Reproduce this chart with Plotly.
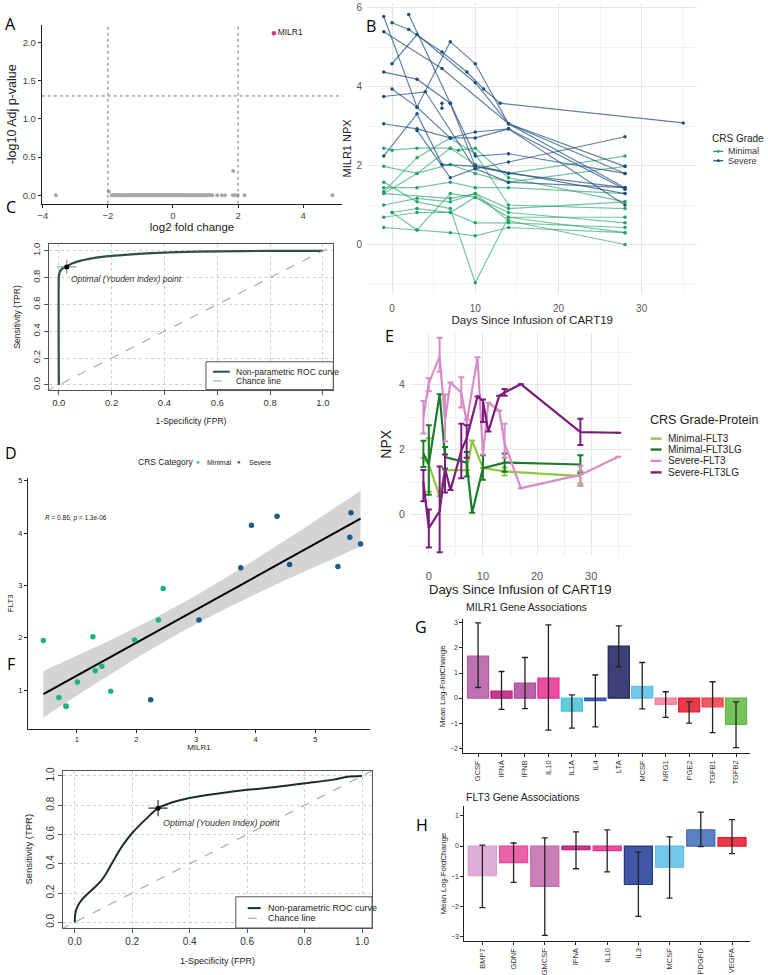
import plotly.graph_objects as go
import numpy as np

# ---------------- Panel A: volcano ----------------
a_fc = [-3.60, -1.97, 1.85,
        -1.88, -1.85, -1.81, -1.79, -1.75, -1.72, -1.70, -1.66, -1.62, -1.60, -1.57, -1.52, -1.50, -1.47,
        -1.43, -1.39, -1.36, -1.34, -1.30, -1.27, -1.22, -1.20, -1.17, -1.13, -1.09, -1.06, -1.03, -0.99,
        -0.96, -0.93, -0.89, -0.86, -0.82, -0.80, -0.76, -0.73, -0.69, -0.66, -0.63, -0.59, -0.56, -0.52,
        -0.50, -0.46, -0.43, -0.39, -0.36, -0.33, -0.29, -0.26, -0.23, -0.19, -0.16, -0.12, -0.10, -0.06,
        -0.03, 0.01, 0.04, 0.07, 0.11, 0.14, 0.18, 0.21, 0.24, 0.28, 0.31, 0.35, 0.38, 0.42, 0.45, 0.48,
        0.52, 0.55, 0.59, 0.62, 0.66, 0.69, 0.73, 0.76, 0.80, 0.83, 0.87, 0.90, 0.94, 0.97, 1.01, 1.04,
        1.08, 1.12, 1.16, 1.21, 1.36, 1.50, 1.60, 1.84, 1.91, 1.99, 2.20, 4.90]
a_p = [0.0, 0.05, 0.32] + [0.0] * 100
a_hit_fc = [3.10]
a_hit_p = [2.12]
a_hit_label = ["MILR1"]
a_fc_cut = [-2, 2]
a_p_cut = 1.3
a_xticks = [-4, -2, 0, 2, 4]
a_yticks = [0.0, 0.5, 1.0, 1.5, 2.0]

# ---------------- Panel B: MILR1 trajectories ----------------
b_groups = ["Minimal", "Severe"]
b_min_days = [[-1, 3, 7, 10, 14, 28], [0, 3, 7, 10, 14, 28], [-1, 3, 7, 10, 14, 28],
              [-1, 3, 7, 10, 14, 28], [-1, 3, 7, 10, 14, 28], [-1, 3, 7, 10, 14, 28],
              [-1, 3, 7, 10, 14, 28], [-1, 3, 7, 10, 14, 28], [-1, 0, 3, 7, 8, 10, 14, 28],
              [-1, 3, 7, 10, 14, 28], [0, 3, 7, 10, 14, 28], [-1, 7, 10, 14, 28]]
b_min_vals = [[0.43, 0.37, 0.30, 0.22, 0.43, 0.30], [0.81, 0.37, 1.29, 1.20, 0.81, 0.55],
              [0.69, 0.81, 0.81, 0.55, 0.55, 0.43], [1.00, 1.17, 1.08, 1.29, 0.91, 1.08],
              [1.44, 1.44, 1.58, 1.44, 1.44, 1.29], [1.58, 1.08, 0.91, -0.97, 0.69, 0.69],
              [1.29, 1.80, 2.44, 2.03, 1.80, 2.24], [1.98, 1.80, 2.03, 1.80, 1.58, 1.98],
              [2.44, 2.39, 2.44, 2.44, 2.39, 2.44, 1.69, 1.08], [1.34, 2.20, 2.70, 2.30, 1.00, 0.91],
              [0.81, 0.91, 0.81, 1.20, 0.69, 0.30], [1.29, 1.17, 1.29, 0.60, 0.00]]
b_sev_days = [[-1, 3, 7, 10, 14, 28], [0, 2, 6, 9, 11, 13, 35], [2, 7, 10, 14, 28],
              [-1, 6, 14, 28], [0, 3, 10, 14, 28], [-1, 3, 7, 10, 14, 28],
              [0, 3, 7, 10, 14, 28], [-1, 4, 10, 14, 28], [-1, 3, 7, 10, 14, 28],
              [-1, 3, 6, 10, 28], [3, 7, 10, 14, 28], [6, 6]]
b_sev_vals = [[5.78, 3.48, 2.70, 2.70, 2.93, 1.40], [5.62, 5.45, 4.88, 4.37, 3.94, 3.58, 3.08],
              [5.83, 3.58, 1.98, 1.80, 1.44], [5.39, 4.46, 3.06, 1.98], [4.58, 5.32, 4.10, 3.06, 1.80],
              [4.37, 4.19, 3.58, 2.24, 2.30, 1.80], [3.94, 3.48, 5.14, 4.58, 3.06, 1.44],
              [3.75, 3.87, 1.92, 2.09, 2.73], [3.06, 2.93, 2.70, 2.85, 2.93, 1.00],
              [2.24, 3.31, 2.03, 1.98, 1.29], [2.89, 1.69, 1.92, 1.58, 1.44], [3.58, 3.45]]

# ---------------- Panel C: ROC (MILR1) ----------------
c_fpr = [0, 0, 0.002, 0.006, 0.012, 0.02, 0.03, 0.05, 0.08, 0.12, 0.18, 0.25, 0.35, 0.45, 0.6, 0.8, 1.0]
c_tpr = [0, 0.80, 0.83, 0.85, 0.865, 0.875, 0.885, 0.905, 0.925, 0.942, 0.958, 0.970, 0.982, 0.990, 0.996, 0.999, 1.0]
c_opt = (0.03, 0.88)
chance = [-0.05, 1.05]
roc_legend = ["Non-parametric ROC curve", "Chance line"]

# ---------------- Panel D: MILR1 vs FLT3 ----------------
d_min_x = [2.45, 2.37, 1.27, 1.97, 0.44, 1.42, 1.31, 1.01, 1.57, 0.70, 0.82, 0.82]
d_min_y = [2.94, 2.34, 2.02, 1.96, 1.95, 1.46, 1.37, 1.16, 0.98, 0.86, 0.70, 0.69]
d_sev_x = [5.60, 4.36, 3.93, 5.58, 5.76, 4.57, 5.38, 3.75, 3.05, 2.24]
d_sev_y = [4.39, 4.32, 4.15, 3.92, 3.79, 3.40, 3.36, 3.34, 2.34, 0.82]
d_ticks = [1, 2, 3, 4, 5]

# ---------------- Panel E: FLT3 / FLT3LG ----------------
e_series = ["Minimal-FLT3", "Minimal-FLT3LG", "Severe-FLT3", "Severe-FLT3LG"]
e_colors = ["#8dc63f", "#1b7a2b", "#d78cc8", "#7b1c7e"]
e_days = [[-1, 0, 2, 3, 7, 8, 10, 14, 28],
          [-1, 0, 2, 3, 7, 8, 10, 14, 28],
          [-1, 0, 2, 3, 4, 6, 7, 9, 10, 11, 13, 14, 17, 28, 35],
          [-1, 0, 2, 3, 4, 6, 7, 9, 10, 11, 13, 14, 17, 28, 35]]
e_vals = [[1.75, 1.55, 0.56, 1.37, 1.37, 2.28, 1.43, 1.33, 1.18],
          [1.88, 1.55, 3.71, 1.77, 1.60, 0.05, 1.43, 1.60, 1.54],
          [3.00, 4.05, 4.88, 2.90, 4.07, 3.76, 2.85, 4.85, 1.85, 3.45, 3.20, 2.19, 0.81, 1.22, 1.78],
          [1.00, -0.42, 0.10, 1.42, 0.75, 1.97, 2.35, 3.64, 3.50, 2.56, 3.66, 3.76, 4.02, 2.54, 2.52]]
e_hi = [[None, 2.35, None, None, None, None, None, 1.45, 1.33],
        [2.27, 2.75, None, 2.08, 1.93, None, 1.83, 1.88, 1.83],
        [3.50, 4.20, 5.45, 3.70, None, 4.23, 2.92, None, None, None, None, 2.80, None, 1.50, None],
        [1.37, 0.15, 1.48, 1.85, None, 2.80, 2.75, None, 3.55, None, None, 3.87, None, 2.95, None]]
e_lo = [[None, 0.70, None, None, None, None, None, 1.20, 0.95],
        [1.46, 0.61, None, 1.42, 1.17, None, 1.07, 1.32, 1.27],
        [2.50, 3.80, 4.40, 2.25, None, 3.30, 2.77, None, None, None, None, 1.75, None, 0.88, None],
        [0.41, -1.02, -1.17, 0.68, None, 1.12, 1.75, None, 2.85, None, None, 3.66, None, 2.14, None]]

# ---------------- Panel F: ROC (FLT3) ----------------
f_fpr = [0, 0.002, 0.01, 0.025, 0.045, 0.07, 0.09, 0.105, 0.12, 0.14, 0.165, 0.2, 0.25, 0.29,
         0.34, 0.4, 0.5, 0.6, 0.7, 0.8, 0.9, 0.95, 1.0]
f_tpr = [0, 0.06, 0.11, 0.155, 0.195, 0.24, 0.28, 0.32, 0.37, 0.44, 0.52, 0.61, 0.71, 0.78,
         0.82, 0.85, 0.88, 0.905, 0.925, 0.95, 0.975, 0.995, 1.0]
f_opt = (0.29, 0.78)

# ---------------- Panel G: MILR1 gene associations ----------------
g_genes = ["GCSF", "IFNA", "IFNB", "IL10", "IL1A", "IL4", "LTA", "MCSF", "NRG1", "PGE2", "TGFB1", "TGFB2"]
g_mean = [1.68, 0.28, 0.60, 0.80, -0.52, -0.10, 2.07, 0.47, -0.25, -0.55, -0.35, -1.05]
g_hi = [3.00, 1.06, 1.62, 2.92, 0.13, 0.92, 2.88, 1.42, 0.25, -0.15, 0.65, -0.15]
g_lo = [0.42, -0.45, -0.42, -1.28, -1.20, -1.15, 1.25, -0.43, -0.77, -1.00, -1.38, -1.98]
g_colors = ["#b35aa3", "#c0197f", "#b0479a", "#e52f8f", "#45c1d9", "#2a4fb5", "#1c2060",
            "#5dbce8", "#f27d9a", "#e8192c", "#ee3b48", "#5db83f"]

# ---------------- Panel H: FLT3 gene associations ----------------
h_genes = ["BMP7", "GDNF", "GMCSF", "IFNA", "IL10", "IL3", "MCSF", "PDGFD", "VEGFA"]
h_mean = [-0.98, -0.55, -1.33, -0.12, -0.15, -1.27, -0.70, 0.53, 0.28]
h_hi = [0.03, 0.10, 0.27, 0.47, 0.53, -0.20, 0.30, 1.12, 0.87]
h_lo = [-2.03, -1.20, -2.95, -0.75, -0.85, -2.32, -1.72, -0.02, -0.25]
h_colors = ["#d9a0cf", "#e8479a", "#c06aac", "#c0197f", "#e52f8f", "#1f3a93", "#5dbce8", "#3e6bb5", "#e8192c"]

# =====================================================================
W, H = 768, 975
FONT = "Liberation Sans, Arial, sans-serif"
MIN_COL, SEV_COL = "#20a468", "#1c4f80"
D_MIN_COL, D_SEV_COL = "#1db47a", "#1f5a8a"


def dom_x(l, r):
    return [l / W, r / W]


def dom_y(t, b):
    return [1 - b / H, 1 - t / H]


def px(x):
    return x / W


def py(y):
    return 1 - y / H


def rgba(hx, a):
    hx = hx.lstrip('#')
    return "rgba(%d,%d,%d,%.2f)" % (int(hx[0:2], 16), int(hx[2:4], 16), int(hx[4:6], 16), a)


fig = go.Figure()
shapes = []
annotations = []


def note(text, x, y, size, color="#222", xanchor="left", **kw):
    annotations.append(dict(text=text, x=px(x), y=py(y), xref="paper", yref="paper", showarrow=False,
                            xanchor=xanchor, yanchor="middle", font=dict(size=size, color=color), **kw))


# ---- A ----
fig.add_trace(go.Scatter(x=a_fc, y=a_p, mode="markers", marker=dict(size=4, color="#a8a8a8"),
                         xaxis="x", yaxis="y", hoverinfo="skip"))
fig.add_trace(go.Scatter(x=a_hit_fc, y=a_hit_p, mode="markers+text", text=a_hit_label,
                         textposition="middle right", textfont=dict(size=8.5, color="#222"),
                         marker=dict(size=4.5, color="#e8336d"), xaxis="x", yaxis="y"))
for v in a_fc_cut:
    shapes.append(dict(type="line", xref="x", yref="y domain", x0=v, x1=v, y0=0, y1=1,
                       line=dict(color="#777", width=1, dash="dot")))
shapes.append(dict(type="line", xref="x domain", yref="y", x0=0, x1=1, y0=a_p_cut, y1=a_p_cut,
                   line=dict(color="#777", width=1, dash="dot")))

# ---- B ----
for d, v in zip(b_min_days, b_min_vals):
    fig.add_trace(go.Scatter(x=d, y=v, mode="lines+markers",
                             line=dict(color="rgba(40,165,110,0.65)", width=1.2),
                             marker=dict(size=3.5, color=MIN_COL), xaxis="x2", yaxis="y2"))
for d, v in zip(b_sev_days, b_sev_vals):
    fig.add_trace(go.Scatter(x=d, y=v, mode="lines+markers",
                             line=dict(color="rgba(35,80,130,0.72)", width=1.2),
                             marker=dict(size=3.5, color=SEV_COL), xaxis="x2", yaxis="y2"))
note("CRS Grade", 710, 136, 10)
for lab, col, yy in zip(b_groups, [MIN_COL, SEV_COL], [149.3, 158.7]):
    shapes.append(dict(type="line", xref="paper", yref="paper", x0=px(713), x1=px(723), y0=py(yy), y1=py(yy),
                       line=dict(color=col, width=1.2)))
    shapes.append(dict(type="circle", xref="paper", yref="paper", x0=px(716.5), x1=px(719.5),
                       y0=py(yy + 1.5), y1=py(yy - 1.5), fillcolor=col, line=dict(width=0)))
    note(lab, 726, yy, 9, "#333")

# ---- C ----
fig.add_trace(go.Scatter(x=c_fpr, y=c_tpr, mode="lines", name=roc_legend[0],
                         line=dict(color="#2f4f48", width=2.2, shape="spline", smoothing=0.5),
                         xaxis="x3", yaxis="y3"))
fig.add_trace(go.Scatter(x=chance, y=chance, mode="lines", name=roc_legend[1],
                         line=dict(color="#aaaaaa", width=1.2, dash="dash"), xaxis="x3", yaxis="y3"))
fig.add_trace(go.Scatter(x=[c_opt[0]], y=[c_opt[1]], mode="markers",
                         marker=dict(size=5, color="black"),
                         error_x=dict(type="constant", value=0.036, width=0, color="#999", thickness=1.2),
                         error_y=dict(type="constant", value=0.055, width=0, color="#999", thickness=1.2),
                         xaxis="x3", yaxis="y3"))
annotations.append(dict(text="<i>Optimal (Youden Index) point</i>", x=0.038, y=0.79, xref="x3", yref="y3",
                        showarrow=False, xanchor="left", font=dict(size=8.5, color="#333")))
shapes.append(dict(type="rect", xref="paper", yref="paper", x0=px(203), x1=px(331), y0=py(389), y1=py(361),
                   fillcolor="white", line=dict(color="#555", width=1), layer="above"))
shapes.append(dict(type="line", xref="paper", yref="paper", x0=px(210), x1=px(227), y0=py(371), y1=py(371),
                   line=dict(color="#2f4f48", width=2), layer="above"))
shapes.append(dict(type="line", xref="paper", yref="paper", x0=px(210), x1=px(227), y0=py(380.3), y1=py(380.3),
                   line=dict(color="#aaaaaa", width=1.2, dash="dash"), layer="above"))
note(roc_legend[0], 231, 371, 8.5, "#222")
note(roc_legend[1], 231, 380.3, 8.5, "#222")

# ---- D ----
xs = np.array(d_min_x + d_sev_x)
ys = np.array(d_min_y + d_sev_y)
n = len(xs)
slope, icpt = np.polyfit(xs, ys, 1)
resid = ys - (slope * xs + icpt)
s = np.sqrt(np.sum(resid ** 2) / (n - 2))
sxx = np.sum((xs - xs.mean()) ** 2)
xg = np.linspace(xs.min(), xs.max(), 80)
yg = slope * xg + icpt
se = s * np.sqrt(1 / n + (xg - xs.mean()) ** 2 / sxx)
tval = 2.086
fig.add_trace(go.Scatter(x=np.concatenate([xg, xg[::-1]]), y=np.concatenate([yg + tval * se, (yg - tval * se)[::-1]]),
                         fill="toself", fillcolor="rgba(160,160,160,0.45)", line=dict(width=0),
                         hoverinfo="skip", xaxis="x4", yaxis="y4"))
fig.add_trace(go.Scatter(x=xg, y=yg, mode="lines", line=dict(color="black", width=2), xaxis="x4", yaxis="y4"))
fig.add_trace(go.Scatter(x=d_min_x, y=d_min_y, mode="markers", marker=dict(size=5.5, color=D_MIN_COL),
                         xaxis="x4", yaxis="y4"))
fig.add_trace(go.Scatter(x=d_sev_x, y=d_sev_y, mode="markers", marker=dict(size=5.5, color=D_SEV_COL),
                         xaxis="x4", yaxis="y4"))
note("CRS Category", 133, 462, 8.5)
note("●", 195, 461.5, 6, D_MIN_COL, xanchor="center")
note(b_groups[0], 202, 462, 7)
note("●", 236, 461.5, 6, D_SEV_COL, xanchor="center")
note(b_groups[1], 244, 462, 7)
annotations.append(dict(text="<i>R</i> = 0.86, <i>p</i> = 1.3e-06", x=0.44, y=4.28, xref="x4", yref="y4",
                        showarrow=False, xanchor="left", font=dict(size=6.5, color="#222")))

# ---- E ----
for name, col, d, v, hi, lo in zip(e_series, e_colors, e_days, e_vals, e_hi, e_lo):
    up = [(h - y) if h is not None else None for h, y in zip(hi, v)]
    dn = [(y - l) if l is not None else None for l, y in zip(lo, v)]
    fig.add_trace(go.Scatter(x=d, y=v, mode="lines", name=name,
                             line=dict(color=col, width=2.2),
                             error_y=dict(type="data", symmetric=False, array=up, arrayminus=dn,
                                          color=col, thickness=2, width=3),
                             xaxis="x5", yaxis="y5"))
note("CRS Grade-Protein", 647, 420, 12.5)
for name, col, yy in zip(e_series, e_colors, [438.3, 449.3, 460.7, 472.3]):
    shapes.append(dict(type="line", xref="paper", yref="paper", x0=px(650), x1=px(661), y0=py(yy), y1=py(yy),
                       line=dict(color=col, width=2.4)))
    note(name, 665, yy, 10, "#222")

# ---- F ----
fig.add_trace(go.Scatter(x=f_fpr, y=f_tpr, mode="lines", name=roc_legend[0],
                         line=dict(color="#1c2e2a", width=2, shape="spline", smoothing=0.8),
                         xaxis="x6", yaxis="y6"))
fig.add_trace(go.Scatter(x=chance, y=chance, mode="lines", name=roc_legend[1],
                         line=dict(color="#aaaaaa", width=1.2, dash="dash"), xaxis="x6", yaxis="y6"))
fig.add_trace(go.Scatter(x=[f_opt[0]], y=[f_opt[1]], mode="markers",
                         marker=dict(size=5, color="black"),
                         error_x=dict(type="constant", value=0.033, width=0, color="#333", thickness=1.2),
                         error_y=dict(type="constant", value=0.055, width=0, color="#333", thickness=1.2),
                         xaxis="x6", yaxis="y6"))
annotations.append(dict(text="<i>Optimal (Youden Index) point</i>", x=0.30, y=0.68, xref="x6", yref="y6",
                        showarrow=False, xanchor="left", font=dict(size=9, color="#333")))
shapes.append(dict(type="rect", xref="paper", yref="paper", x0=px(233), x1=px(370), y0=py(930.7), y1=py(899.3),
                   fillcolor="white", line=dict(color="#555", width=1), layer="above"))
shapes.append(dict(type="line", xref="paper", yref="paper", x0=px(245), x1=px(258), y0=py(910.7), y1=py(910.7),
                   line=dict(color="#1c2e2a", width=2), layer="above"))
shapes.append(dict(type="line", xref="paper", yref="paper", x0=px(245), x1=px(258), y0=py(921), y1=py(921),
                   line=dict(color="#aaaaaa", width=1.2, dash="dash"), layer="above"))
note(roc_legend[0], 263, 910.7, 9, "#222")
note(roc_legend[1], 263, 921, 9, "#222")

# ---- G / H ----
for genes, mean, hi, lo, cols, xa, ya in [(g_genes, g_mean, g_hi, g_lo, g_colors, "x7", "y7"),
                                          (h_genes, h_mean, h_hi, h_lo, h_colors, "x8", "y8")]:
    fig.add_trace(go.Bar(x=genes, y=mean, width=0.9,
                         marker=dict(color=[rgba(c, 0.85) for c in cols], line=dict(color=cols, width=1.2)),
                         error_y=dict(type="data", symmetric=False,
                                      array=[h - m for h, m in zip(hi, mean)],
                                      arrayminus=[m - l for m, l in zip(mean, lo)],
                                      color="#222", thickness=1.3, width=3),
                         xaxis=xa, yaxis=ya))
note("MILR1 Gene Associations", 462, 608, 10.5)
note("FLT3 Gene Associations", 462, 799, 10.5)

# panel letters
for lab, lx, ly in [("A", 7, 21), ("B", 369, 23), ("C", 7, 205), ("D", 7, 453), ("E", 388, 335),
                    ("F", 7, 665), ("G", 419, 628), ("H", 420, 827)]:
    annotations.append(dict(text=lab, x=px(lx), y=py(ly), xref="paper", yref="paper", showarrow=False,
                            font=dict(size=16, family="Open Sans, Liberation Sans, sans-serif", color="black"),
                            xanchor="center", yanchor="middle"))

# =====================================================================
classic = dict(showline=True, linecolor="#222", linewidth=1, ticks="outside", ticklen=3, tickcolor="#222",
               showgrid=False, zeroline=False)
minimal = dict(showline=False, ticks="outside", tickcolor="rgba(0,0,0,0)", showgrid=True, gridcolor="#e6e6e6",
               gridwidth=1, zeroline=False)
rbox = dict(showline=True, mirror=True, linecolor="#555", linewidth=1, ticks="outside", ticklen=4,
            tickcolor="#555", showgrid=True, gridcolor="#cfcfcf", griddash="dot", zeroline=False)

layout = dict(
    width=W, height=H, margin=dict(l=0, r=0, t=0, b=0), plot_bgcolor="white", paper_bgcolor="white",
    font=dict(family=FONT, color="#222"), shapes=shapes, annotations=annotations, showlegend=False,
    # A
    xaxis=dict(classic, domain=dom_x(38, 340), range=[-4.03, 5.2], anchor="y", tickvals=a_xticks,
               tickfont=dict(size=9.5, color="#444"),
               title=dict(text="log2 fold change", font=dict(size=11.5), standoff=1)),
    yaxis=dict(classic, domain=dom_y(22, 202), range=[-0.11, 2.23], anchor="x", tickvals=a_yticks,
               ticktext=["0.0", "0.5", "1.0", "1.5", "2.0"], tickfont=dict(size=9.5, color="#444"),
               title=dict(text="-log10 Adj p-value", font=dict(size=12.5), standoff=3)),
    # B
    xaxis2=dict(minimal, ticklen=5, domain=dom_x(365, 697), range=[-3, 36.7], anchor="y2", tick0=0, dtick=10,
                minor=dict(dtick=5, tick0=0, showgrid=True, gridcolor="#f3f3f3"),
                tickfont=dict(size=10, color="#555"),
                title=dict(text="Days Since Infusion of CART19", font=dict(size=11.5), standoff=2)),
    yaxis2=dict(minimal, ticklen=2, domain=dom_y(0, 292.6), range=[-1.25, 6.12], anchor="x2", tick0=0, dtick=2,
                minor=dict(dtick=1, tick0=0, showgrid=True, gridcolor="#f3f3f3"),
                tickfont=dict(size=10, color="#555"),
                title=dict(text="MILR1 NPX", font=dict(size=11), standoff=2)),
    # C
    xaxis3=dict(rbox, domain=dom_x(45, 331), range=[-0.038, 1.039], anchor="y3", tick0=0, dtick=0.2,
                tickformat=".1f", tickfont=dict(size=9.5, color="#333"),
                title=dict(text="1-Specificity (FPR)", font=dict(size=8.5), standoff=11)),
    yaxis3=dict(rbox, domain=dom_y(242.7, 389), range=[-0.035, 1.049], anchor="x3", tick0=0, dtick=0.2,
                tickformat=".1f", tickangle=-90, tickfont=dict(size=9.5, color="#333"),
                title=dict(text="Sensitivity (TPR)", font=dict(size=8.5), standoff=8)),
    # D
    xaxis4=dict(classic, domain=dom_x(24, 368), range=[0.18, 5.92], anchor="y4", tickvals=d_ticks,
                tickfont=dict(size=7.5), title=dict(text="MILR1", font=dict(size=8), standoff=1)),
    yaxis4=dict(classic, domain=dom_y(478, 730), range=[0.27, 5.05], anchor="x4", tickvals=d_ticks,
                tickfont=dict(size=7.5), title=dict(text="FLT3", font=dict(size=8), standoff=3)),
    # E
    xaxis5=dict(minimal, ticklen=10, domain=dom_x(408, 630), range=[-3.5, 37.3], anchor="y5", tick0=0, dtick=10,
                minor=dict(dtick=5, tick0=0, showgrid=True, gridcolor="#f0f0f0"),
                tickfont=dict(size=11, color="#555"),
                title=dict(text="Days Since Infusion of CART19", font=dict(size=13), standoff=3)),
    yaxis5=dict(minimal, ticklen=2, domain=dom_y(332, 556), range=[-1.27, 5.6], anchor="x5", tick0=0, dtick=2,
                minor=dict(dtick=1, tick0=0, showgrid=True, gridcolor="#f0f0f0"),
                tickfont=dict(size=10.5, color="#555"),
                title=dict(text="NPX", font=dict(size=14), standoff=4)),
    # F
    xaxis6=dict(rbox, domain=dom_x(59.3, 370), range=[-0.041, 1.035], anchor="y6", tick0=0, dtick=0.2,
                tickformat=".1f", tickfont=dict(size=10, color="#333"),
                title=dict(text="1-Specificity (FPR)", font=dict(size=9), standoff=11)),
    yaxis6=dict(rbox, domain=dom_y(772.3, 930.7), range=[-0.039, 1.037], anchor="x6", tick0=0, dtick=0.2,
                tickformat=".1f", tickangle=-90, tickfont=dict(size=10, color="#333"),
                title=dict(text="Sensitivity (TPR)", font=dict(size=9.5), standoff=10)),
    # G
    xaxis7=dict(classic, domain=dom_x(461.7, 750), range=[-0.63, 11.6], anchor="y7", type="category",
                tickangle=-90, tickfont=dict(size=7.5, color="#333")),
    yaxis7=dict(classic, domain=dom_y(620, 755), range=[-2.21, 3.15], anchor="x7", dtick=1,
                tickfont=dict(size=7, color="#333"),
                title=dict(text="Mean Log-FoldChange", font=dict(size=8), standoff=3)),
    # H
    xaxis8=dict(classic, domain=dom_x(462.7, 750), range=[-0.58, 8.58], anchor="y8", type="category",
                tickangle=-90, tickfont=dict(size=7.5, color="#333")),
    yaxis8=dict(classic, domain=dom_y(808, 944), range=[-3.14, 1.32], anchor="x8", dtick=1,
                tickfont=dict(size=7, color="#333"),
                title=dict(text="Mean Log-FoldChange", font=dict(size=8), standoff=3)),
)
fig.update_layout(**layout)

fig.write_html("out.html", config={"displayModeBar": False},
               post_script="document.body.style.margin='0px';document.body.style.padding='0px';")
